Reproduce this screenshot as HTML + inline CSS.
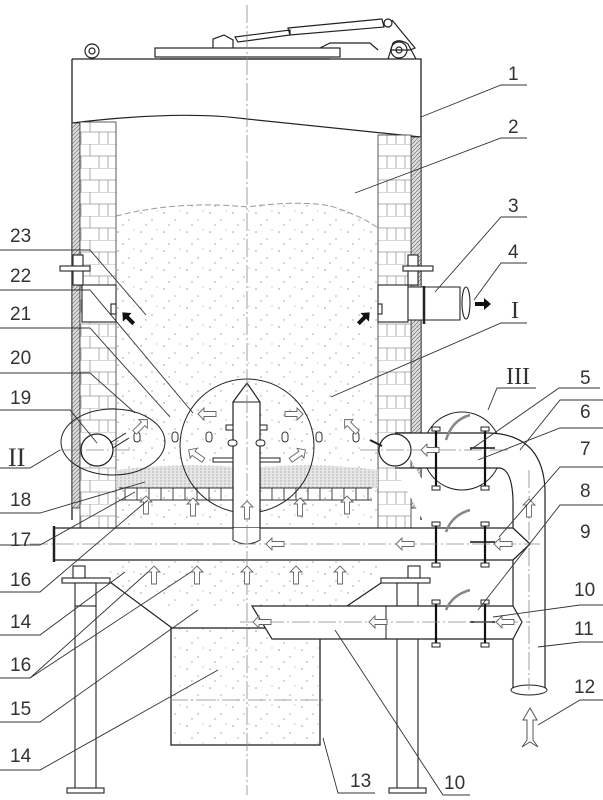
<!DOCTYPE html>
<html><head><meta charset="utf-8"><style>
html,body{margin:0;padding:0;background:#fff;}
svg{display:block;}
text{font-family:"Liberation Sans",sans-serif;font-size:19px;fill:#333;}
</style></head><body>
<svg width="603" height="800" viewBox="0 0 603 800" xmlns="http://www.w3.org/2000/svg">
<defs>
<pattern id="spk" width="23" height="19" patternUnits="userSpaceOnUse">
<circle cx="3" cy="4" r="0.8" fill="#999"/><circle cx="14" cy="11" r="0.8" fill="#aaa"/><circle cx="8" cy="16" r="0.7" fill="#999"/><circle cx="19" cy="2" r="0.6" fill="#aaa"/>
</pattern>
<pattern id="sand" width="4" height="3" patternUnits="userSpaceOnUse"><rect width="4" height="3" fill="#e6e6e6"/><circle cx="1" cy="1" r="0.7" fill="#aaa"/></pattern>
<pattern id="brk" width="36" height="24" patternUnits="userSpaceOnUse">
<rect width="36" height="24" fill="#fff"/>
<path d="M0 0H36M0 12H36M18 0V12M0 12V24M36 12V24M9 12V24M27 12V24" stroke="#999" stroke-width="0.8" fill="none"/>
</pattern>
<pattern id="hat" width="4" height="4" patternUnits="userSpaceOnUse"><rect width="4" height="4" fill="#ddd"/><path d="M0 4L4 0" stroke="#777" stroke-width="0.7"/></pattern>
<g id="ar"><polygon points="0,-9 6,-3 2.5,-3 2.5,9 -2.5,9 -2.5,-3 -6,-3" fill="#fff" stroke="#666" stroke-width="0.9"/></g>
<g id="bar"><polygon points="0,-8 6,-1 2,-1 2,8 -2,8 -2,-1 -6,-1" fill="#111"/></g>
</defs>
<g fill="none" stroke="#222" stroke-width="1.2">
<circle cx="92" cy="51" r="7"/><circle cx="92" cy="51" r="3"/><circle cx="399" cy="50" r="8"/><circle cx="399" cy="50" r="3"/>
<path d="M388 59L393 43Q399 38 408 44L416 59"/>
<rect x="155" y="48" width="185" height="9"/>
<path d="M160 59H330"/>
<path d="M213 48V39L224 35L233 40V48"/>
<path d="M235 37L290 30L290 35L238 42Z"/>
<path d="M288 28L382 19L384 27L290 35Z"/>
<circle cx="388" cy="23" r="4"/>
<path d="M392 20L415 48L410 50L390 50"/>
<path d="M320 48L330 43H370L378 50"/>
<path d="M72 59H421V520M72 59V520" stroke-width="1.3"/>
<path d="M72 123Q180 110 247 119L421 137"/>
</g>
<rect x="72" y="123" width="8" height="385" fill="url(#hat)" stroke="#333" stroke-width="0.8"/>
<rect x="80" y="122" width="36" height="406" fill="url(#brk)" stroke="#333" stroke-width="0.8"/>
<rect x="411" y="137" width="10" height="371" fill="url(#hat)" stroke="#333" stroke-width="0.8"/>
<rect x="378" y="135" width="33" height="393" fill="url(#brk)" stroke="#333" stroke-width="0.8"/>
<path d="M116 216Q180 200 247 207Q300 200 330 206Q360 215 378 228V528H116Z" fill="url(#spk)"/>
<path d="M116 216Q180 200 247 207Q300 200 330 206Q360 215 378 228" fill="none" stroke="#999" stroke-dasharray="6 3"/>
<path d="M116 470Q180 462 250 468Q320 462 378 470V488H116Z" fill="url(#sand)"/>
<g fill="#fff" stroke="#222" stroke-width="1.1">
<rect x="82" y="285" width="34" height="37"/><rect x="378" y="285" width="30" height="37"/>
<rect x="73" y="255" width="10" height="30"/><rect x="408" y="255" width="10" height="30"/>
<rect x="60" y="266" width="30" height="5"/><rect x="403" y="266" width="30" height="5"/>
<path d="M408 287H460V320H408Z"/>
<ellipse cx="466" cy="303" rx="4" ry="16"/>
<rect x="111" y="304" width="5" height="10"/><rect x="378" y="304" width="4" height="10"/>
<path d="M424 286V324" stroke-width="2.5"/>
</g>
<use href="#bar" transform="translate(128,318) rotate(-45)"/>
<use href="#bar" transform="translate(364,318) rotate(45)"/>
<use href="#bar" transform="translate(483,304) rotate(90)"/>
<g stroke="#333" stroke-width="0.9" fill="none">
<path d="M119 488H372M119 500H372"/>
<path d="M125 488v12M137 488v12M149 488v12M161 488v12M173 488v12M185 488v12M197 488v12M209 488v12M221 488v12M272 488v12M284 488v12M296 488v12M308 488v12M320 488v12M332 488v12M344 488v12M356 488v12M368 488v12"/>
</g>
<g fill="none" stroke="#222" stroke-width="1">
<circle cx="247" cy="446" r="67"/>
<ellipse cx="113" cy="442" rx="52" ry="33"/>
<circle cx="462" cy="451" r="39"/>
</g>
<path d="M233 528V402L247 383L260 402V528Q247 536 233 528Z" fill="#fff" stroke="#222" stroke-width="1.2"/>
<path d="M233 402H260" stroke="#222"/>
<g fill="#fff" stroke="#222"><rect x="226" y="425" width="7" height="5"/><rect x="260" y="425" width="7" height="5"/><rect x="228" y="440" width="9" height="6" rx="3"/><rect x="256" y="440" width="9" height="6" rx="3"/><rect x="213" y="458" width="20" height="4"/><rect x="260" y="458" width="20" height="4"/></g>
<g fill="#fff" stroke="#333"><rect x="134" y="432" width="6" height="10" rx="3"/><rect x="172" y="432" width="6" height="10" rx="3"/><rect x="206" y="432" width="6" height="10" rx="3"/><rect x="282" y="432" width="6" height="10" rx="3"/><rect x="316" y="432" width="6" height="10" rx="3"/><rect x="353" y="432" width="6" height="10" rx="3"/></g>
<circle cx="97" cy="450" r="16" fill="#fff" stroke="#222" stroke-width="1.3"/>
<path d="M110 443L126 433M113 448L129 438" stroke="#222"/>
<path d="M395 433H490Q543 435 545 490V690M513 690V500Q512 470 500 468H395" fill="#fff" stroke="#222" stroke-width="1.2"/>
<circle cx="395" cy="450" r="16" fill="#fff" stroke="#222" stroke-width="1.2"/>
<path d="M370 440L382 446" stroke="#222" stroke-width="2"/>
<ellipse cx="529" cy="690" rx="18" ry="5" fill="#fff" stroke="#222"/>
<path d="M54 528H513L530 544L513 560H54Z" fill="#fff" stroke="#222" stroke-width="1.3"/>
<path d="M54 526V562" stroke="#222" stroke-width="2.5"/>
<path d="M233 528V540Q247 548 260 540V528" fill="#fff" stroke="#222"/>
<path d="M116 560H378V582L347 607H172L110 582V560Z" fill="url(#spk)"/>
<g fill="#fff" stroke="#222" stroke-width="1.1">
<rect x="62" y="578" width="48" height="5"/><rect x="381" y="578" width="49" height="5"/>
<rect x="73" y="566" width="12" height="12"/><rect x="408" y="566" width="12" height="12"/>
<rect x="75" y="583" width="21" height="23"/><rect x="397" y="583" width="21" height="23"/>
<path d="M75 606V790M96 606V790M397 606V790M418 606V790"/>
<rect x="67" y="788" width="37" height="5"/><rect x="389" y="788" width="37" height="5"/>
</g>
<path d="M110 582L172 628M381 583L347 606" stroke="#222" stroke-width="1.2"/>
<rect x="171" y="628" width="149" height="117" fill="url(#spk)" stroke="#222" stroke-width="1.3"/>
<path d="M252 606H513L522 622L513 639H272Z" fill="#fff" stroke="#222" stroke-width="1.2"/>
<path d="M386 606V639" stroke="#222"/>
<g stroke="#111" stroke-width="2.2"><path d="M436 429V488M485 429V488M436 524V565M485 524V565M436 601V644M485 601V644"/></g>
<g fill="#fff" stroke="#222"><rect x="432" y="427" width="8" height="4"/><rect x="481" y="427" width="8" height="4"/><rect x="432" y="486" width="8" height="4"/><rect x="481" y="486" width="8" height="4"/><rect x="432" y="522" width="8" height="4"/><rect x="481" y="522" width="8" height="4"/><rect x="432" y="563" width="8" height="4"/><rect x="481" y="563" width="8" height="4"/><rect x="432" y="600" width="8" height="4"/><rect x="481" y="600" width="8" height="4"/><rect x="432" y="643" width="8" height="4"/><rect x="481" y="643" width="8" height="4"/></g>
<g fill="none" stroke="#888" stroke-width="2.5"><path d="M446 440Q452 420 470 415M446 532Q452 515 470 510M446 610Q452 595 470 590"/></g>
<g stroke="#111" stroke-width="1.6"><path d="M470 448H495M470 542H495M470 622H495"/></g>
<g stroke="#888" stroke-width="0.8" stroke-dasharray="18 3 2 3" fill="none">
<path d="M247 5V795"/><path d="M30 544H540M240 622H530M360 450H510M529 470V690M60 450H135M170 700H325"/>
</g>
<use href="#ar" transform="translate(146,505)"/><use href="#ar" transform="translate(193,507)"/><use href="#ar" transform="translate(247,510)"/><use href="#ar" transform="translate(300,507)"/><use href="#ar" transform="translate(347,505)"/>
<use href="#ar" transform="translate(154,575)"/><use href="#ar" transform="translate(197,575)"/><use href="#ar" transform="translate(247,575)"/><use href="#ar" transform="translate(296,575)"/><use href="#ar" transform="translate(340,575)"/>
<use href="#ar" transform="translate(275,544) rotate(-90)"/><use href="#ar" transform="translate(405,544) rotate(-90)"/><use href="#ar" transform="translate(503,544) rotate(-90)"/>
<use href="#ar" transform="translate(262,622) rotate(-90)"/><use href="#ar" transform="translate(378,622) rotate(-90)"/><use href="#ar" transform="translate(505,622) rotate(-90)"/>
<use href="#ar" transform="translate(430,450) rotate(-90)"/><use href="#ar" transform="translate(529,508)"/>
<use href="#ar" transform="translate(207,414) rotate(-90)"/><use href="#ar" transform="translate(294,414) rotate(90)"/>
<use href="#ar" transform="translate(196,455) rotate(-55)"/><use href="#ar" transform="translate(298,455) rotate(55)"/>
<use href="#ar" transform="translate(141,426) rotate(45)"/><use href="#ar" transform="translate(351,426) rotate(-45)"/>
<polygon points="530,708 537,720 533,720 533,740 538,747 530,742 522,747 527,740 527,720 523,720" fill="#fff" stroke="#555"/>
<g stroke="#333" stroke-width="0.9" fill="none">
<path d="M527 85H501L421 117"/><path d="M527 138H501L355 193"/><path d="M527 217H501L435 292"/><path d="M527 263H501L474 300"/>
<path d="M527 323H501L331 397"/><path d="M536 388H497L488 410"/><path d="M600 388H559L470 450"/>
<path d="M603 400H560L520 450"/><path d="M603 428H560L478 460"/><path d="M603 467H560L499 537"/><path d="M603 505H560L478 610"/>
<path d="M603 605H580L493 617"/><path d="M603 642H580L538 647"/><path d="M603 700H580L538 725"/>
<path d="M375 793H338L323 738"/><path d="M470 795H443L335 630"/>
<path d="M0 250H90L146 315"/><path d="M0 290H90L193 413"/><path d="M0 328H90L170 417"/><path d="M0 373H90L135 413"/><path d="M0 410H70L97 443"/><path d="M0 468H30L60 450"/>
<path d="M0 513H40L145 482"/><path d="M0 545H40L135 492"/><path d="M0 592H40L148 500"/><path d="M0 635H40L125 572"/><path d="M0 678H30L148 572M30 678L191 572"/><path d="M0 722H40L198 610"/><path d="M0 770H40L218 670"/>
</g>
<g>
<text x="508" y="80">1</text><text x="508" y="133">2</text><text x="508" y="212">3</text><text x="508" y="258">4</text>
<text x="511" y="318" style="font-family:'Liberation Serif',serif;font-size:24px">I</text>
<text x="506" y="384" style="font-family:'Liberation Serif',serif;font-size:24px">III</text>
<text x="580" y="384">5</text><text x="580" y="418">6</text><text x="580" y="455">7</text><text x="580" y="497">8</text><text x="580" y="538">9</text>
<text x="574" y="596">10</text><text x="574" y="635">11</text><text x="574" y="693">12</text>
<text x="350" y="787">13</text><text x="444" y="789">10</text>
<text x="10" y="242">23</text><text x="10" y="282">22</text><text x="10" y="320">21</text><text x="10" y="364">20</text><text x="10" y="404">19</text>
<text x="8" y="466" style="font-family:'Liberation Serif',serif;font-size:26px">II</text>
<text x="10" y="506">18</text><text x="10" y="546">17</text><text x="10" y="586">16</text><text x="10" y="628">14</text><text x="10" y="671">16</text><text x="10" y="715">15</text><text x="10" y="762">14</text>
</g>
</svg>
</body></html>
